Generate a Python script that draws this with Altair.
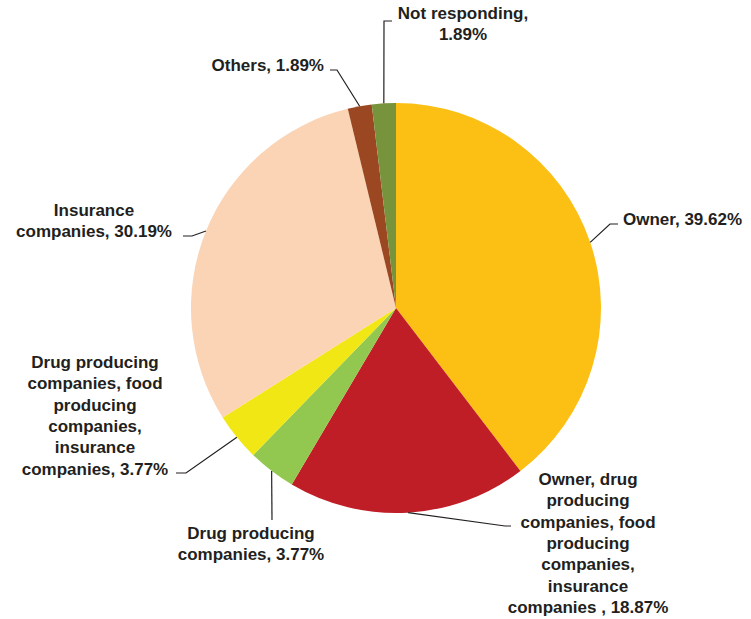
import math
import altair as alt
import pandas as pd

# ---- data ----
categories = [
    "Owner",
    "Owner, drug producing companies, food producing companies, insurance companies",
    "Drug producing companies",
    "Drug producing companies, food producing companies, insurance companies",
    "Insurance companies",
    "Others",
    "Not responding",
]
values = [39.62, 18.87, 3.77, 3.77, 30.19, 1.89, 1.89]
label_texts = [
    ["Owner, 39.62%"],
    ["Owner, drug", "producing", "companies, food", "producing", "companies,", "insurance", "companies , 18.87%"],
    ["Drug producing", "companies, 3.77%"],
    ["Drug producing", "companies, food", "producing", "companies,", "insurance", "companies, 3.77%"],
    ["Insurance", "companies, 30.19%"],
    ["Others, 1.89%"],
    ["Not responding,", "1.89%"],
]
colors = ["#FCBF14", "#C01E26", "#92C850", "#F0E714", "#FAD4B4", "#9B4722", "#77943C"]

# ---- layout (pixels) ----
W, H = 751, 619
CX, CY, R = 396, 308, 205
FONT = "Liberation Sans"
TEXT_COLOR = "#231F20"
label_pos = [  # (x, y of first line, align)
    (623, 220, "left"),
    (588, 480, "center"),
    (251, 534, "center"),
    (95, 363, "center"),
    (94, 211, "center"),
    (324, 66, "right"),
    (463, 14, "center"),
]
leader_tail = [  # elbow and end points after the anchor on the arc
    [(610, 224), (618, 224)],
    [(505, 526), (511, 526)],
    [(272, 520)],
    [(186, 473), (176, 473)],
    [(192, 236), (183, 236)],
    [(337, 70), (330, 70)],
    [(384, 21), (392, 21)],
]

total = sum(values)
pie_df = pd.DataFrame({"cat": categories, "value": values, "order": list(range(len(values)))})

rows_text = []
rows_line = []
cum = 0.0
for i, v in enumerate(values):
    mid = (cum + v / 2) / total * 2 * math.pi
    cum += v
    ax = CX + R * math.sin(mid)
    ay = CY - R * math.cos(mid)
    pts = [(ax, ay)] + leader_tail[i]
    for j, (px, py) in enumerate(pts):
        rows_line.append({"cat": categories[i], "seq": j, "px": px, "py": py})
    lx, ly, al = label_pos[i]
    rows_text.append({"cat": categories[i], "txt": label_texts[i], "lx": lx, "ly": ly, "al": al})

line_df = pd.DataFrame(rows_line)
text_df = pd.DataFrame(rows_text)

pie = alt.Chart(pie_df).mark_arc(radius=R, stroke=None).encode(
    theta=alt.Theta("value:Q", stack=True),
    order=alt.Order("order:Q"),
    color=alt.Color("cat:N", scale=alt.Scale(domain=categories, range=colors), legend=None),
    x=alt.value(CX),
    y=alt.value(CY),
)

leaders = alt.Chart(line_df).mark_line(color=TEXT_COLOR, strokeWidth=1.2).encode(
    x=alt.X("px:Q", scale=None, axis=None),
    y=alt.Y("py:Q", scale=None, axis=None),
    detail="cat:N",
    order=alt.Order("seq:Q"),
)

layers = [pie, leaders]
for al in ["left", "center", "right"]:
    sub = text_df[text_df["al"] == al]
    layers.append(
        alt.Chart(sub).mark_text(
            align=al, baseline="middle", font=FONT, fontSize=17, fontWeight="bold",
            color=TEXT_COLOR, lineHeight=21.3,
        ).encode(
            x=alt.X("lx:Q", scale=None, axis=None),
            y=alt.Y("ly:Q", scale=None, axis=None),
            text="txt",
        )
    )

chart = alt.layer(*layers).properties(
    width=W, height=H, padding=0, autosize=alt.AutoSizeParams(type="none"),
    background="white",
).configure_view(stroke=None)

chart.save("out.html", embed_options={"renderer": "svg", "actions": False})
